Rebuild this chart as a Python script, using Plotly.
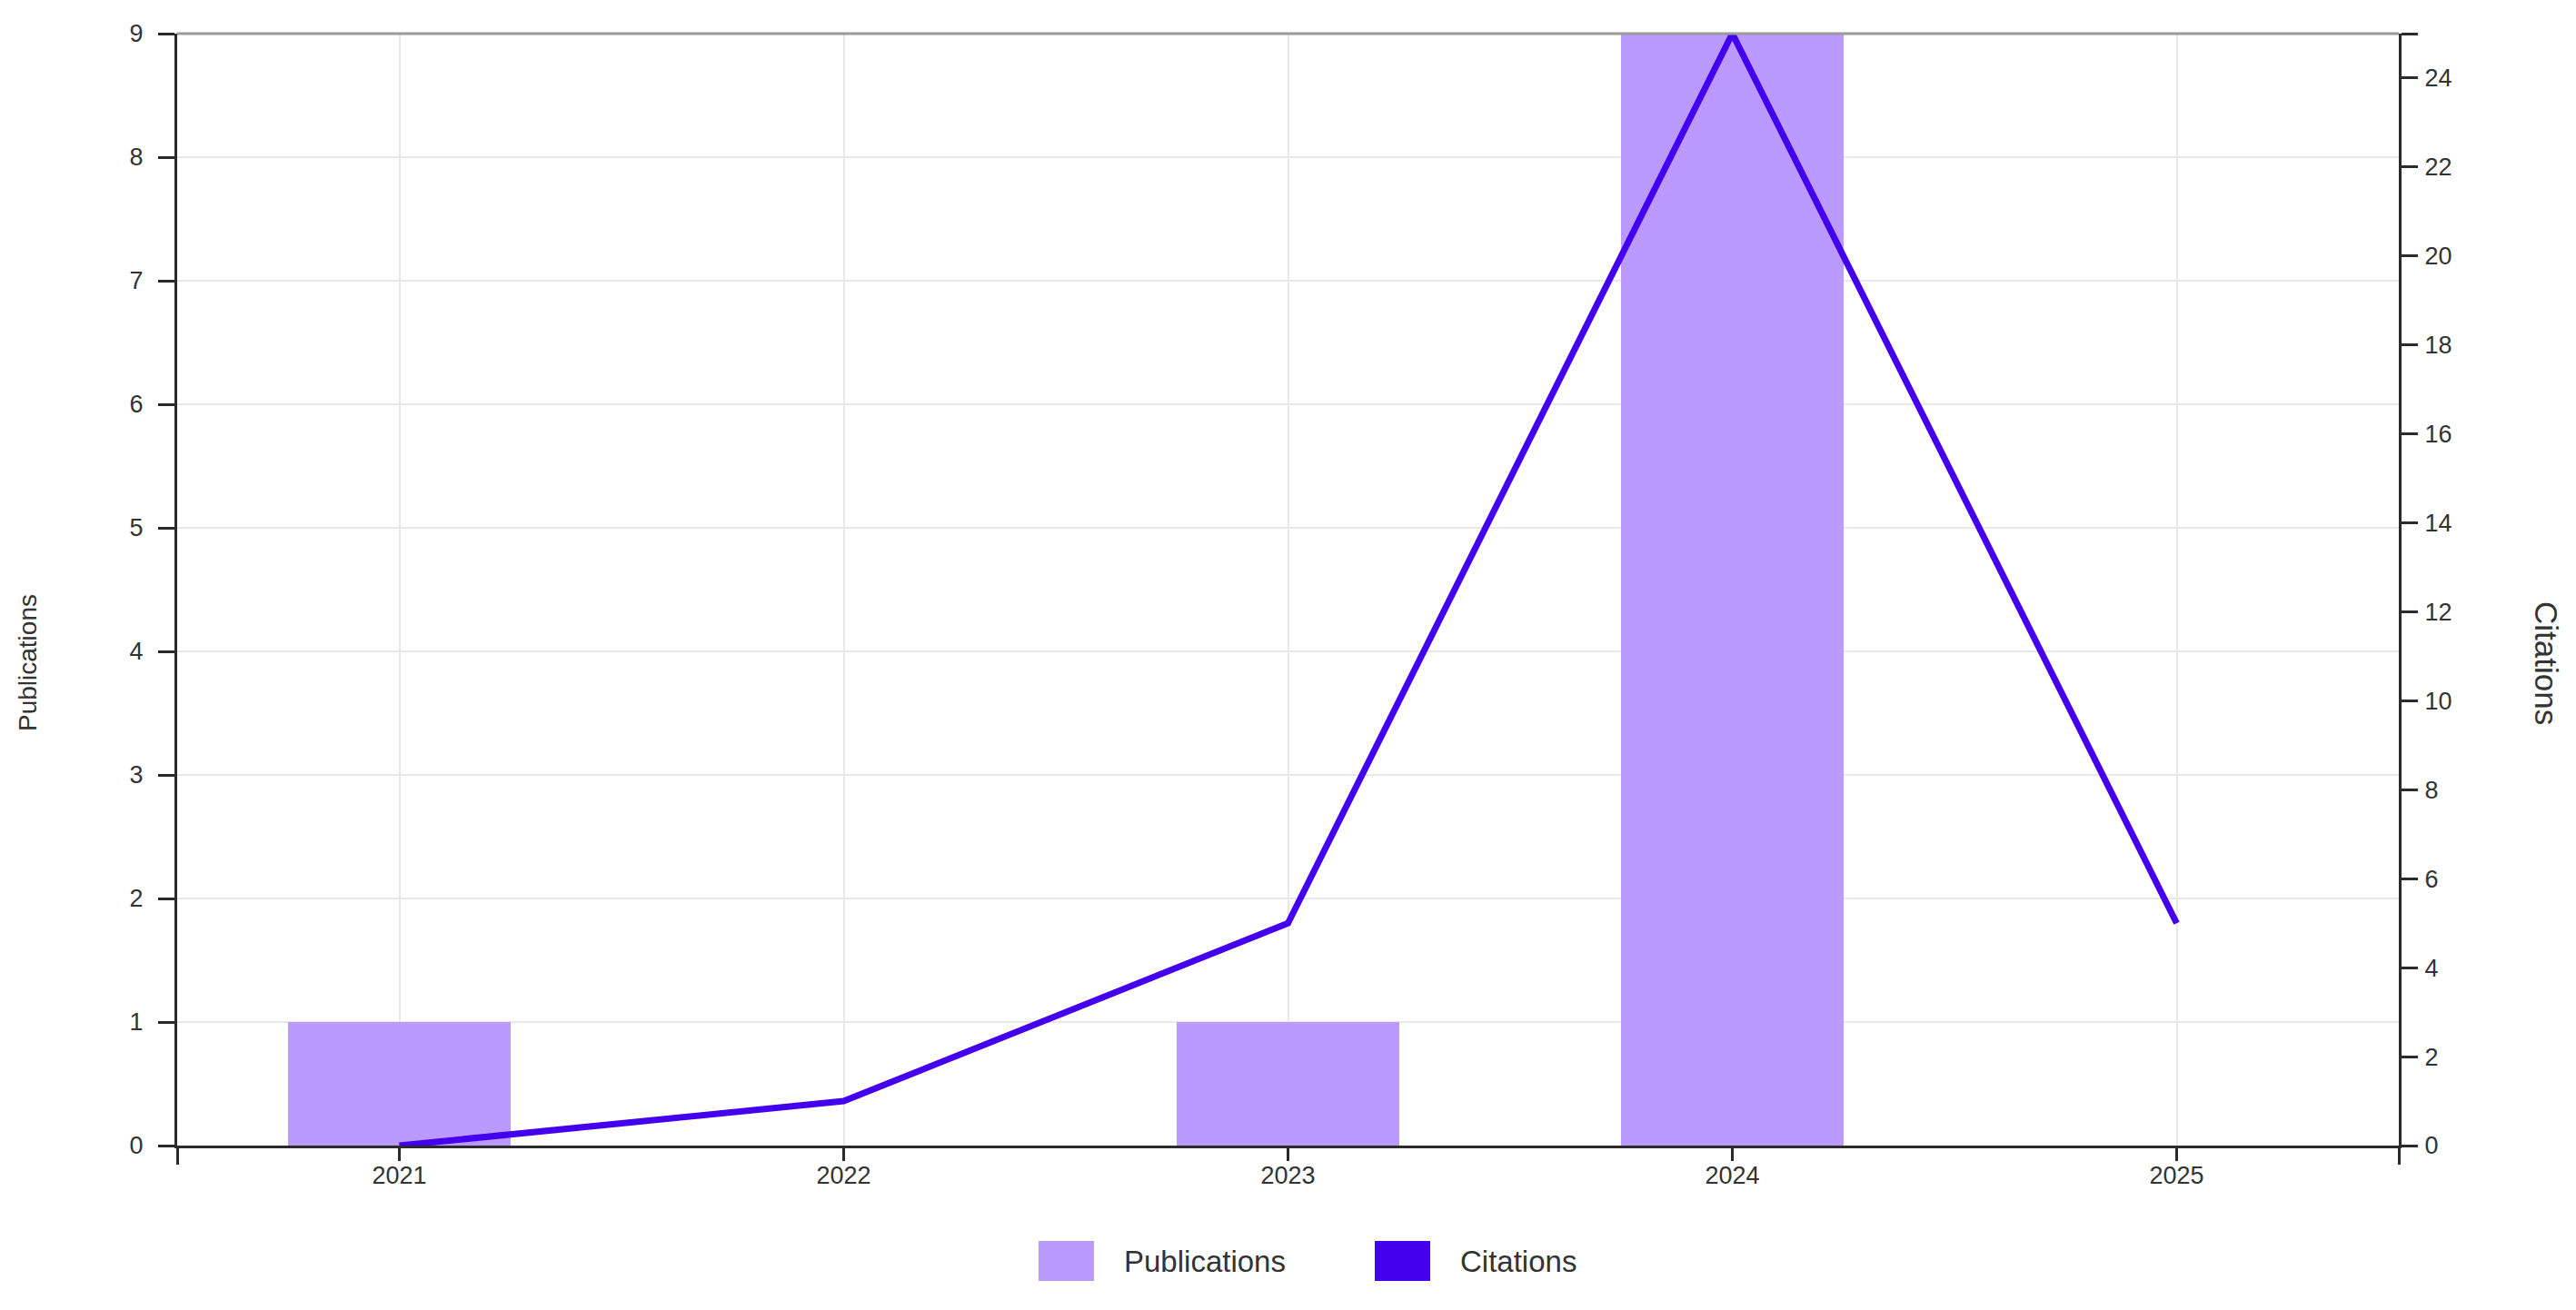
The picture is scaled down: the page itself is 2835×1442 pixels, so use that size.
import plotly.graph_objects as go

years = [2021, 2022, 2023, 2024, 2025]
publications = [1, 0, 1, 9, 0]
citations = [0, 1, 5, 25, 5]
left_ticks = list(range(0, 10))
right_ticks = list(range(0, 26, 2))

BAR_COLOR = "#bb9aff"
LINE_COLOR = "#4400ee"
AXIS_COLOR = "#2b2b2b"
GRID_COLOR = "#e8e8e8"
TEXT_COLOR = "#333333"
FONT = "Liberation Sans, Arial, sans-serif"

fig = go.Figure()
fig.add_trace(go.Bar(x=years, y=publications, name="Publications",
                     marker=dict(color=BAR_COLOR, line=dict(width=0)),
                     width=0.5, yaxis="y", showlegend=False))
fig.add_trace(go.Scatter(x=years, y=citations, name="Citations", mode="lines",
                         line=dict(color=LINE_COLOR, width=7), yaxis="y2",
                         showlegend=False))

# page body has an 8px margin; figure coordinates are screen coordinates minus 8
OFF = 8
W, H = 2835 - 2 * OFF, 1442 - 2 * OFF
L, T = 195 - OFF, 37 - OFF
R = W - (2640 - OFF)
B = H - (1261 - OFF)
pw = W - L - R
ph = H - T - B

def px_x(x):
    # x in screen pixels
    return (x - OFF - L) / pw

def px_y(y):
    return (H - B - (y - OFF)) / ph

fig.update_layout(
    width=W, height=H,
    margin=dict(l=L, r=R, t=T, b=B, autoexpand=False),
    paper_bgcolor="white", plot_bgcolor="white",
    font=dict(family=FONT, size=27, color=TEXT_COLOR),
    showlegend=False,
    bargap=0,
    xaxis=dict(
        range=[2020.5, 2025.5], tickmode="array", tickvals=years,
        ticktext=[str(y) for y in years],
        showgrid=True, gridcolor=GRID_COLOR, gridwidth=2,
        showline=True, linecolor=AXIS_COLOR, linewidth=3,
        ticks="outside", ticklen=14, tickwidth=3, tickcolor=AXIS_COLOR,
        ticklabelstandoff=-7,
        zeroline=False,
        minor=dict(tickmode="array", tickvals=[2020.5, 2025.5], ticks="outside",
                   ticklen=18, tickwidth=3, tickcolor=AXIS_COLOR, showgrid=False),
    ),
    yaxis=dict(
        range=[0, 9], tickmode="array", tickvals=left_ticks,
        showgrid=True, gridcolor=GRID_COLOR, gridwidth=2,
        showline=True, linecolor=AXIS_COLOR, linewidth=3,
        ticks="outside", ticklen=18, tickwidth=3, tickcolor=AXIS_COLOR,
        ticklabelstandoff=11, zeroline=False,
    ),
    yaxis2=dict(
        range=[0, 25], tickmode="array", tickvals=right_ticks,
        overlaying="y", side="right", showgrid=False,
        showline=True, linecolor=AXIS_COLOR, linewidth=3,
        ticks="outside", ticklen=18, tickwidth=3, tickcolor=AXIS_COLOR,
        ticklabelstandoff=2, zeroline=False,
        minor=dict(tickmode="array", tickvals=[25], ticks="outside",
                   ticklen=18, tickwidth=3, tickcolor=AXIS_COLOR, showgrid=False),
    ),
)

# top border line
fig.add_shape(type="line", xref="paper", yref="paper", x0=0, x1=1, y0=1, y1=1,
              line=dict(color="#9a9a9a", width=3), layer="above")

# axis titles
fig.add_annotation(text="Publications", xref="paper", yref="paper",
                   x=px_x(30), y=px_y(730), textangle=-90, showarrow=False,
                   xanchor="center", yanchor="middle",
                   font=dict(size=28, color=TEXT_COLOR, family=FONT))
fig.add_annotation(text="Citations", xref="paper", yref="paper",
                   x=px_x(2803), y=px_y(730), textangle=90, showarrow=False,
                   xanchor="center", yanchor="middle",
                   font=dict(size=35, color=TEXT_COLOR, family=FONT))

# legend (drawn manually to match large swatches)
legend_items = [("Publications", BAR_COLOR, 1143), ("Citations", LINE_COLOR, 1513)]
for label, color, x0 in legend_items:
    fig.add_shape(type="rect", xref="paper", yref="paper",
                  x0=px_x(x0), x1=px_x(x0 + 61), y0=px_y(1410), y1=px_y(1366),
                  fillcolor=color, line=dict(width=0))
    fig.add_annotation(text=label, xref="paper", yref="paper",
                       x=px_x(x0 + 92), y=px_y(1388), showarrow=False,
                       xanchor="left", yanchor="middle",
                       font=dict(size=33, color=TEXT_COLOR, family=FONT))

fig.write_html("out.html")
